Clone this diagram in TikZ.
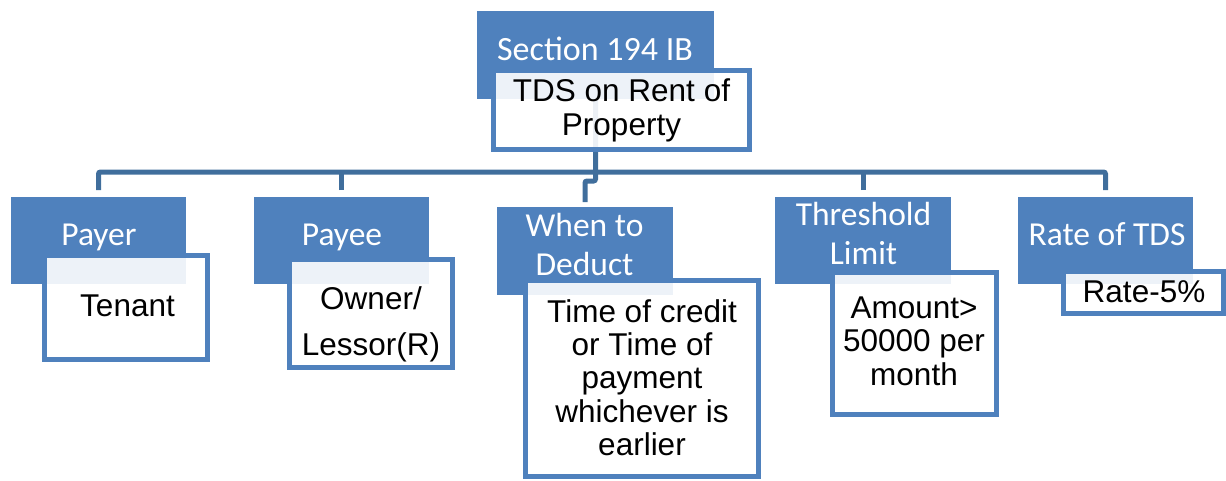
\documentclass[tikz,border=0pt]{standalone}
\usepackage{fontspec}
\setmainfont{Liberation Sans}
\newfontfamily\headfont{Carlito}
\usetikzlibrary{backgrounds}
\definecolor{hdrblue}{RGB}{79,129,189}
\definecolor{linkblue}{RGB}{64,110,156}
\begin{document}
\begin{tikzpicture}[x=1pt,y=-1pt,
  head/.style={fill=hdrblue, draw=none, inner sep=0pt, outer sep=0pt, anchor=north west},
  body/.style={fill=white, fill opacity=0.9, draw=hdrblue, line width=5pt, inner sep=0pt, outer sep=0pt, anchor=north west},
  headtxt/.style={text=white, font=\headfont\fontsize{33.5}{39}\selectfont, anchor=base, inner sep=0pt, align=center},
  bodytxt/.style={text=black, font=\fontsize{31.5}{33.3}\selectfont, anchor=base, inner sep=0pt, align=center},
  conn/.style={draw=linkblue, line width=5pt, rounded corners=2pt}]
\useasboundingbox (0,0) rectangle (1226,480);

% header boxes
\node[head, minimum width=237pt, minimum height=88pt] (root) at (477,11) {};
\node[head, minimum width=175pt, minimum height=87pt] (c1) at (11,197) {};
\node[head, minimum width=175pt, minimum height=87pt] (c2) at (254,197) {};
\node[head, minimum width=176pt, minimum height=88pt] (c3) at (497,207) {};
\node[head, minimum width=176pt, minimum height=87pt] (c4) at (775,197) {};
\node[head, minimum width=175pt, minimum height=87pt] (c5) at (1018,197) {};

% detail boxes
\node[body, minimum width=256pt, minimum height=79pt] (rootd) at (493.5,70.5) {};
\node[body, minimum width=163pt, minimum height=104pt] (d1) at (44.5,255.5) {};
\node[body, minimum width=163pt, minimum height=108pt] (d2) at (289.5,259.5) {};
\node[body, minimum width=233pt, minimum height=196pt] (d3) at (525.5,280.5) {};
\node[body, minimum width=164pt, minimum height=142pt] (d4) at (832.5,272.5) {};
\node[body, minimum width=160pt, minimum height=42pt] (d5) at (1063.5,271.5) {};

% connectors
\begin{pgfonlayer}{background}
\draw[conn] (root.south) -- ++(0,82) -| ([yshift=5pt]c3.north);
\draw[conn] ([yshift=7pt]c1.north) -- ([yshift=25pt]c1.north)
  -- ([yshift=25pt]c5.north) -- ([yshift=7pt]c5.north);
\draw[conn] ([yshift=7pt]c2.north) -- ([yshift=25pt]c2.north);
\draw[conn] ([yshift=7pt]c4.north) -- ([yshift=25pt]c4.north);
\end{pgfonlayer}

% header labels (multi-line labels are placed by their last baseline)
\node[headtxt, font=\headfont\fontsize{34}{39}\selectfont] (troot) at (595,60) {Section 194 IB};
\node[headtxt] (tc1) at (99,245) {Payer};
\node[headtxt] (tc2) at (342,245) {Payee};
\node[headtxt] (tc3) at (584.5,275) {When to\\Deduct};
\node[headtxt] (tc4) at (863.5,264) {Threshold\\Limit};
\node[headtxt] (tc5) at (1107,245) {Rate of TDS};

% detail labels
\node[bodytxt] (trootd) at (621.5,135) {TDS on Rent of\\Property};
\node[bodytxt] (td1) at (127.5,316) {Tenant};
\node[bodytxt, font=\fontsize{31.5}{46}\selectfont] (td2) at (371,355) {Owner/\\Lessor(R)};
\node[bodytxt] (td3) at (642,455.5) {Time of credit\\or Time of\\payment\\whichever is\\earlier};
\node[bodytxt] (td4) at (914,385) {Amount>\\50000 per\\month};
\node[bodytxt] (td5) at (1144,302) {Rate-5\%};
\end{tikzpicture}
\end{document}
